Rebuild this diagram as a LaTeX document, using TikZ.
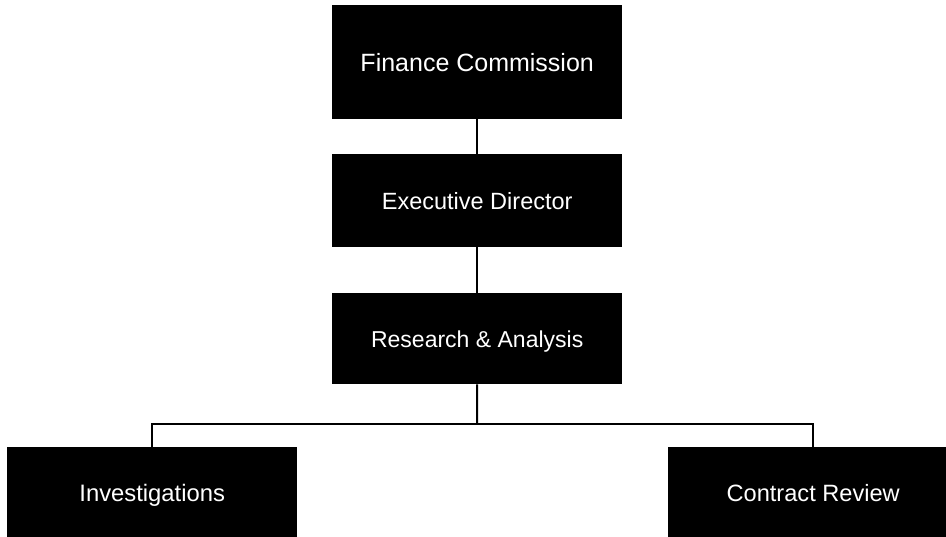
\documentclass[tikz,border=0pt]{standalone}
\usepackage{fontspec}
\setmainfont{Liberation Sans}
\begin{document}
\begin{tikzpicture}[x=1pt,y=-1pt,
  orgbox/.style={fill=black,text=white,inner sep=0pt,anchor=north west,text height=17pt,text depth=0pt},
  link/.style={draw=black,line width=2pt}]
\useasboundingbox (0,0) rectangle (946,537);
\node[orgbox,minimum width=290pt,minimum height=114pt,font=\fontsize{25}{30}\selectfont,text height=18pt] (fc) at (332,5) {Finance Commission};
\node[orgbox,minimum width=290pt,minimum height=93pt,font=\fontsize{23.5}{28}\selectfont] (ed) at (332,154) {Executive Director};
\node[orgbox,minimum width=290pt,minimum height=91pt,font=\fontsize{23}{28}\selectfont] (ra) at (332,293) {Research \& Analysis};
\node[orgbox,minimum width=290pt,minimum height=91pt,font=\fontsize{23.8}{28}\selectfont] (inv) at (7,447) {Investigations};
\node[orgbox,minimum width=290pt,minimum height=91pt,font=\fontsize{23.6}{28}\selectfont] (cr) at (668,447) {Contract Review};
\coordinate (j) at (477,424);
\draw[link] (fc.south) -- (ed.north);
\draw[link] (ed.south) -- (ra.north);
\draw[link] (ra.south) -- (j);
\draw[link] (inv.north) |- (j) -| (cr.north);
\end{tikzpicture}
\end{document}
